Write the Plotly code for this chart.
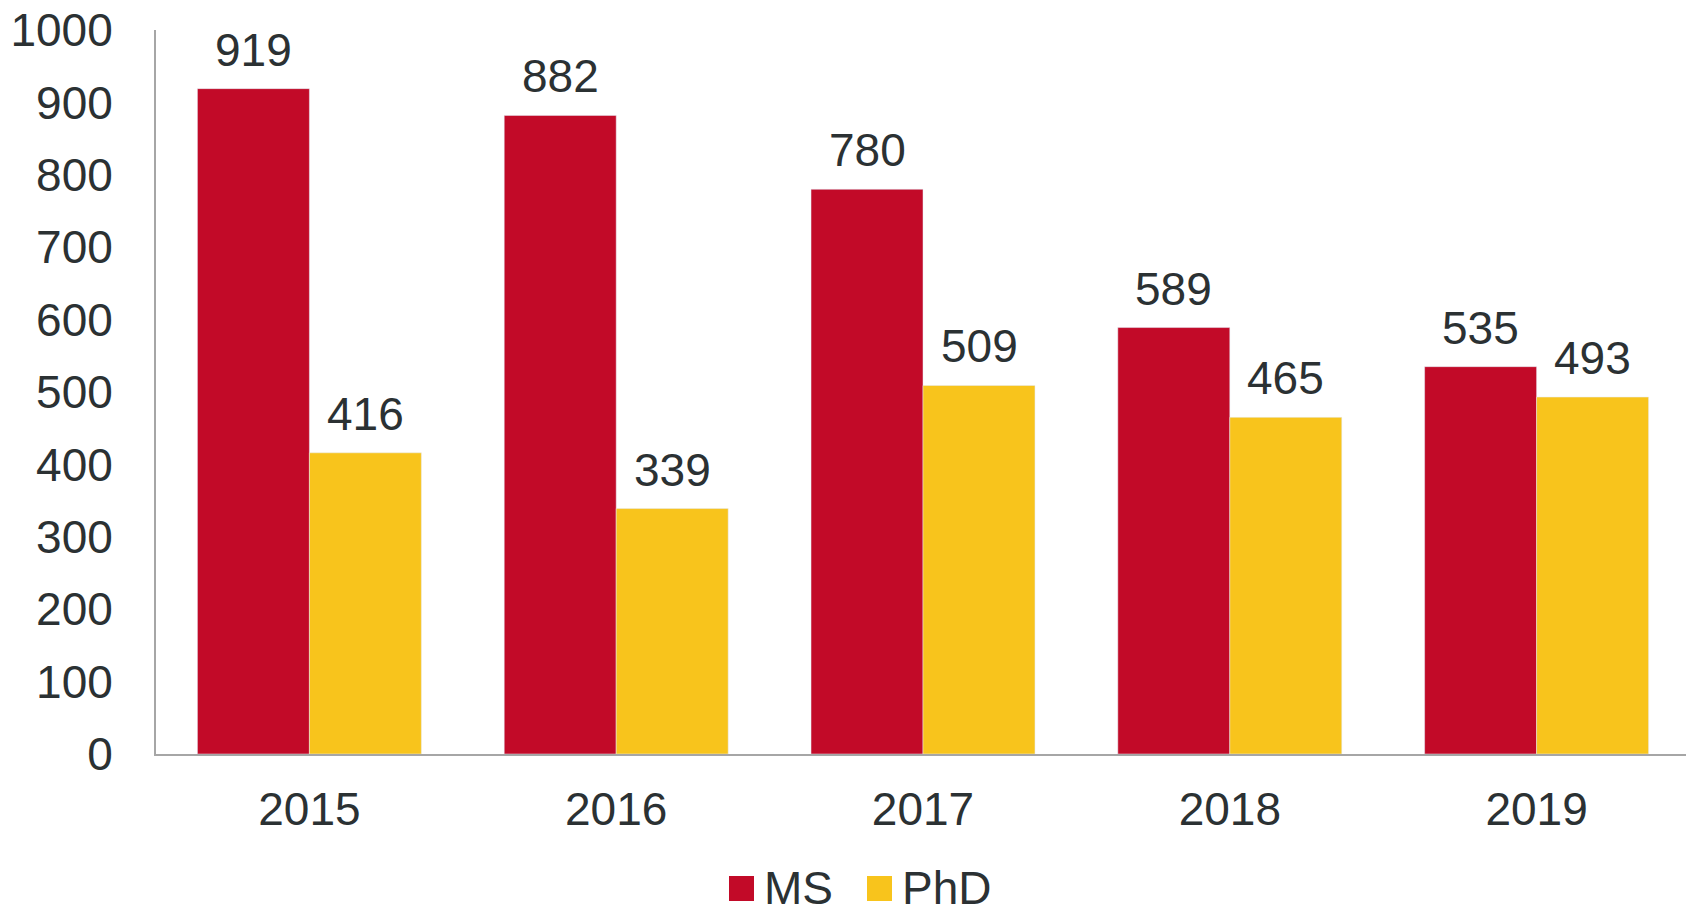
import plotly.graph_objects as go

years = ["2015", "2016", "2017", "2018", "2019"]
ms_counts = [919, 882, 780, 589, 535]
phd_counts = [416, 339, 509, 465, 493]
y_ticks = [0, 100, 200, 300, 400, 500, 600, 700, 800, 900, 1000]
series_names = ["MS", "PhD"]

MS_COLOR = "#C20A28"
PHD_COLOR = "#F8C41C"
TEXT_COLOR = "#2B3133"
FONT = "Liberation Sans, Arial, sans-serif"

# page body adds 8px, so the figure is a bit smaller than the window
W, H = 1686, 900
L, R, T, B = 148, 4, 22, 154
PW, PH = W - L - R, H - T - B


def px_x(x):
    return (x - L) / PW


def px_y(y):
    return (H - B - y) / PH


def main():
    fig = go.Figure()
    fig.add_trace(go.Bar(x=years, y=ms_counts, name=series_names[0], marker_color=MS_COLOR))
    fig.add_trace(go.Bar(x=years, y=phd_counts, name=series_names[1], marker_color=PHD_COLOR))

    # value labels sit a bit higher above the bars than plotly's default outside text
    # (category index used for x, numeric-looking names get read as indices)
    for vals, shift in [(ms_counts, -56), (phd_counts, 56)]:
        for i, v in enumerate(vals):
            fig.add_annotation(x=i, y=v, text=str(v), showarrow=False,
                               xshift=shift, yshift=11, yanchor="bottom",
                               font=dict(size=46, color=TEXT_COLOR, family=FONT))

    # hand-made legend, plotly caps the swatch size
    legend_y = 880
    for (name, col, sx) in [(series_names[0], MS_COLOR, 721), (series_names[1], PHD_COLOR, 859)]:
        fig.add_shape(type="rect", xref="paper", yref="paper",
                      x0=px_x(sx), x1=px_x(sx + 25), y0=px_y(legend_y - 12), y1=px_y(legend_y + 13),
                      fillcolor=col, line_width=0)
        fig.add_annotation(xref="paper", yref="paper", x=px_x(sx + 33), y=px_y(legend_y),
                           xanchor="left", yanchor="middle", text=name, showarrow=False,
                           font=dict(size=46, color=TEXT_COLOR, family=FONT))

    fig.update_layout(
        width=W, height=H,
        margin=dict(l=L, r=R, t=T, b=B, autoexpand=False),
        plot_bgcolor="white", paper_bgcolor="white",
        barmode="group", bargap=0.27, bargroupgap=0,
        font=dict(family=FONT, size=46, color=TEXT_COLOR),
        showlegend=False,
    )
    fig.update_yaxes(range=[0, 1000], tickvals=y_ticks, showgrid=False, zeroline=False,
                     showline=True, linecolor="#A6A6A6", linewidth=2,
                     ticks="", ticklabelstandoff=32, ticklabeloverflow="allow")
    fig.update_xaxes(type="category", range=[-0.5, len(years) - 0.5], showgrid=False,
                     showline=True, linecolor="#A6A6A6", linewidth=2, ticks="",
                     ticklabelstandoff=14)
    fig.write_html("out.html")


if __name__ == '__main__':
    main()
